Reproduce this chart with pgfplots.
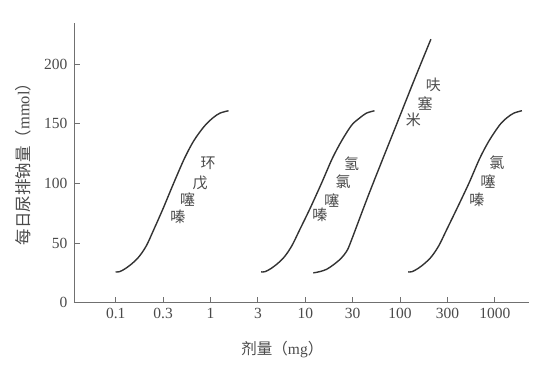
\documentclass[border=0pt]{standalone}
\usepackage{fontspec}
\setmainfont{Liberation Serif}
\newfontfamily\cjk{Noto Sans CJK SC}
\usepackage{pgfplots}
\pgfplotsset{compat=1.18}
\definecolor{txt}{HTML}{4A4A4A}
\definecolor{crv}{HTML}{333333}
\definecolor{axc}{HTML}{707070}
\begin{document}
\begin{tikzpicture}
\useasboundingbox (-74pt,-66.3pt) rectangle (475pt,302.7pt);
\begin{axis}[
  scale only axis,
  width=455pt, height=279.7pt,
  xmin=-0.88, xmax=8.72, ymin=0, ymax=234.6,
  axis x line=bottom, axis y line=left,
  axis line style={-, axc, line width=0.9pt},
  xtick={0,1,2,3,4,5,6,7,8},
  xticklabels={0.1,0.3,1,3,10,30,100,300,1000},
  ytick={0,50,100,150,200},
  tick align=inside,
  major tick length=6pt,
  tick style={axc, line width=0.8pt},
  ticklabel style={font=\fontsize{15.5}{18}\selectfont, text=txt},
  /pgf/number format/assume math mode=true,
  xticklabel style={yshift=-2pt},
  yticklabel style={xshift=-3pt},
  xlabel={\cjk 剂量（\rmfamily mg\cjk ）},
  xlabel style={at={(axis description cs:0.458,-0.169)}, anchor=center, font=\fontsize{15.5}{18}\selectfont, text=txt},
  ylabel={\cjk 每日尿排钠量（\rmfamily mmol\cjk ）},
  ylabel style={at={(axis description cs:-0.112,0.51)}, anchor=center, rotate=0, font=\fontsize{16.5}{18}\selectfont, text=txt},
  clip=false,
]
% 环戊噻嗪
\addplot[crv, line width=1.4pt, smooth, tension=0.5] coordinates {
(0.0,25.8)(0.08,26)(0.2,28.5)(0.35,33)(0.5,39)(0.65,48)(0.8,61)(1.0,79)(1.22,100)(1.45,121)(1.65,136)(1.87,148)(2.05,155)(2.2,159)(2.38,161)};
% 氢氯噻嗪
\addplot[crv, line width=1.4pt, smooth, tension=0.5] coordinates {
(3.07,25.8)(3.15,26)(3.27,28.5)(3.42,33)(3.57,39)(3.72,48)(3.88,61)(4.1,79)(4.34,100)(4.57,121)(4.77,136)(4.98,149)(5.15,155)(5.29,159)(5.46,161)};
% 呋塞米
\addplot[crv, line width=1.4pt, smooth, tension=0.5] coordinates {
(4.17,25)(4.3,26)(4.45,28)(4.6,32)(4.75,37)(4.87,43)(4.96,51)(5.36,93)(5.93,150)(6.28,185)(6.65,221)};
% 氯噻嗪
\addplot[crv, line width=1.4pt, smooth, tension=0.5] coordinates {
(6.17,25.8)(6.25,26)(6.37,28.5)(6.52,33)(6.67,39)(6.82,48)(6.98,61)(7.2,79)(7.45,100)(7.68,121)(7.88,136)(8.1,149)(8.25,155)(8.4,159)(8.57,161)};
\begin{scope}[every node/.style={font=\cjk\fontsize{15}{18}\selectfont, text=txt, inner sep=0pt}]
\node at (axis cs:1.95,117.2) {环};
\node at (axis cs:1.78,100.5) {戊};
\node at (axis cs:1.52,86.3) {噻};
\node at (axis cs:1.31,72) {嗪};
\node at (axis cs:4.98,117) {氢};
\node at (axis cs:4.80,101.5) {氯};
\node at (axis cs:4.56,86) {噻};
\node at (axis cs:4.31,73.6) {嗪};
\node at (axis cs:6.70,182.7) {呋};
\node at (axis cs:6.53,167.3) {塞};
\node at (axis cs:6.28,153.3) {米};
\node at (axis cs:8.04,117) {氯};
\node at (axis cs:7.86,101.5) {噻};
\node at (axis cs:7.62,86) {嗪};
\end{scope}
\end{axis}
\end{tikzpicture}
\end{document}
